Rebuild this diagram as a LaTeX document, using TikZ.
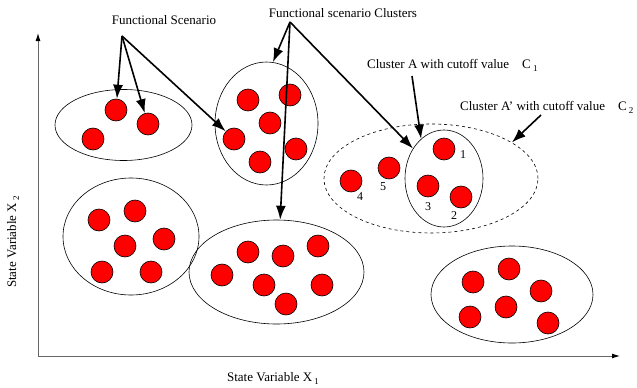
\documentclass[tikz,border=0pt]{standalone}
\usepackage{fontspec}
\setmainfont{Liberation Serif}
\usetikzlibrary{arrows.meta}
\usetikzlibrary{shapes.geometric}

% lowered index after X and C
\newcommand{\idx}[1]{\,\raisebox{-0.5ex}{\fontsize{9}{9}\selectfont #1}}

\begin{document}
\begin{tikzpicture}[
                x=1pt, y=-1pt,
                font=\fontsize{13}{15}\selectfont,
                scen/.style={circle, minimum size=22pt, inner sep=0pt, fill=red, draw=black, line width=0.6pt},
                clus/.style={ellipse, draw=black, line width=0.6pt, inner sep=0pt},
                cutclus/.style={clus, dashed},
                axis/.style={-{Latex[length=8pt, width=5pt, color=black]}, draw=black!60, line width=1pt},
                pointer/.style={-{Latex[length=14pt, width=10pt]}, line width=1.6pt},
                numlabel/.style={font=\fontsize{12}{14}\selectfont, inner sep=0pt},
                ]

                \useasboundingbox (0,0) rectangle (637,388);

                % ── Axes ──
                \coordinate (origin) at (38,356);
                \coordinate (ytop) at (38,33);
                \coordinate (xend) at (620,356);
                \draw[axis] (origin) -- (ytop);
                \draw[axis] (origin) -- (xend);
                \node (xlabel) at (273,378) {State Variable X\idx{1}};
                \node[rotate=90] (ylabel) at (13,242) {State Variable X\idx{2}};

                % ── Clusters ──
                \node[clus, minimum width=137pt, minimum height=71pt] (e1) at (123.5,125) {};
                \node[clus, minimum width=103pt, minimum height=123pt] (e2) at (266.5,123.5) {};
                \node[clus, minimum width=136pt, minimum height=117pt] (e5) at (131,236.5) {};
                \node[clus, minimum width=175pt, minimum height=104pt] (e6) at (276.5,272) {};
                \node[clus, minimum width=162pt, minimum height=97pt] (e7) at (512,294.5) {};
                \node[cutclus, minimum width=214pt, minimum height=109pt] (cAp) at (431,178.5) {};
                \node[clus, minimum width=78pt, minimum height=97pt] (cA) at (444,178.5) {};

                % ── Functional scenarios ──
                \foreach \p [count=\k] in {(116,110),(148,124),(93,139)}
                    \node[scen] (a\k) at \p {};
                \foreach \p [count=\k] in {(248,100),(290,95),(270,123),(234,139),(260,162),(296,149)}
                    \node[scen] (b\k) at \p {};
                \foreach \p [count=\k] in {(99,220),(135,211),(125,246),(164,239),(102,272),(151,272)}
                    \node[scen] (c\k) at \p {};
                \foreach \p [count=\k] in {(222,275),(248,252),(283,256),(318,246),(264,285),(322,285),(286,304)}
                    \node[scen] (d\k) at \p {};
                \foreach \p [count=\k] in {(473,282),(509,269),(541,291),(506,307),(470,317),(548,323)}
                    \node[scen] (f\k) at \p {};

                % numbered ones inside cluster A'
                \node[scen] (n1) at (444,149) {};
                \node[scen] (n2) at (461,197) {};
                \node[scen] (n3) at (428,186) {};
                \node[scen] (n4) at (351,181) {};
                \node[scen] (n5) at (389,168) {};
                \node[numlabel] at (463,155) {1};
                \node[numlabel] at (454,216) {2};
                \node[numlabel] at (428,207) {3};
                \node[numlabel] at (360,197) {4};
                \node[numlabel] at (383,187) {5};

                % ── Labels and pointers ──
                \node (fslabel) at (164,20) {Functional Scenario};
                \coordinate (fsfan) at (122,36);
                \draw[pointer] (fsfan) -- (a1);
                \draw[pointer] (fsfan) -- (a2);
                \draw[pointer] (fsfan) -- (b4);

                \node (fsclabel) at (343,13) {Functional scenario Clusters};
                \coordinate (fscfan) at (290,22);
                \draw[pointer] (fscfan) -- (e2.84);
                \draw[pointer] (fscfan) -- (e6.86);
                \draw[pointer] (fscfan) -- (cA.136);

                \node[anchor=west, inner sep=0pt] (calabel) at (367,65) {Cluster A with cutoff value\quad C\idx{1}};
                \coordinate (catail) at (412,76);
                \draw[pointer] (catail) -- (cA.120);

                \node[anchor=west, inner sep=0pt] (caplabel) at (460,107) {Cluster A’ with cutoff value\quad C\idx{2}};
                \coordinate (captail) at (541,115);
                \draw[pointer] (captail) -- (cAp.24);

\end{tikzpicture}
\end{document}
